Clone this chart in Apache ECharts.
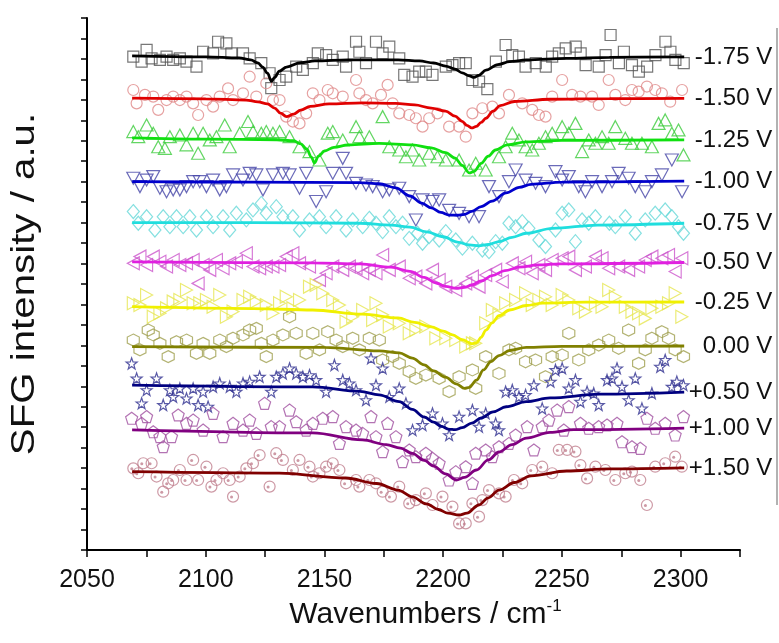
<!DOCTYPE html>
<html><head><meta charset="utf-8">
<script src="https://cdn.jsdelivr.net/npm/echarts@6/dist/echarts.min.js"></script>
<style>html,body{margin:0;padding:0;background:#fff}#c{width:779px;height:643px}</style>
</head><body><div id="c"></div>
<script>
// ---- labels ----
const POTENTIALS = ['-1.75 V','-1.50 V','-1.25 V','-1.00 V','-0.75 V','-0.50 V','-0.25 V','0.00 V','+0.50 V','+1.00 V','+1.50 V'];
const X_TITLE = 'Wavenumbers / cm';
const X_TITLE_SUP = '-1';
const Y_TITLE = 'SFG intensity / a.u.';

// ---- measured points [wavenumber, offset intensity] ----
const pts_m175 = [[2069.5,24.11],[2073.0,23.87],[2075.1,24.44],[2077.2,24.03],[2080.7,23.95],[2083.5,24.11],[2086.3,23.95],[2089.1,24.03],[2091.9,23.87],[2096.1,23.62],[2098.9,24.35],[2103.1,24.27],[2105.2,24.84],[2108.7,24.76],[2110.8,24.27],[2115.7,24.27],[2118.5,24.03],[2123.4,23.79],[2126.9,23.30],[2127.6,22.57],[2131.1,22.97],[2133.9,23.13],[2138.1,23.62],[2140.9,23.46],[2145.1,23.79],[2147.2,24.27],[2150.7,24.19],[2153.5,23.95],[2157.7,24.11],[2159.1,23.62],[2163.3,24.84],[2164.7,24.35],[2167.5,23.79],[2171.7,24.84],[2174.5,24.27],[2177.3,24.60],[2181.5,24.03],[2183.6,23.22],[2187.1,23.13],[2189.9,23.38],[2192.7,23.38],[2195.5,23.22],[2201.1,23.62],[2203.9,23.70],[2206.7,23.79],[2209.5,23.79],[2212.3,22.97],[2215.1,22.89],[2218.6,22.52],[2222.2,23.87],[2226.3,24.68],[2229.1,24.19],[2231.9,24.11],[2234.7,23.62],[2239.0,23.79],[2243.2,23.62],[2245.9,24.11],[2248.7,24.27],[2251.6,24.52],[2255.8,24.60],[2257.9,24.27],[2260.0,23.70],[2265.5,23.62],[2268.4,24.19],[2270.5,25.17],[2274.0,23.79],[2276.1,24.35],[2279.5,23.70],[2282.4,23.38],[2285.9,23.62],[2289.4,24.19],[2293.6,24.84],[2295.7,24.35],[2297.8,23.95],[2301.3,23.79]];
const pts_m150 = [[2069.5,22.48],[2070.9,21.83],[2074.4,22.24],[2077.9,22.16],[2080.0,21.51],[2083.5,21.99],[2086.3,22.16],[2089.1,21.99],[2091.9,22.16],[2094.7,21.83],[2096.8,21.26],[2100.3,21.99],[2103.1,21.67],[2105.9,22.16],[2109.4,22.56],[2111.5,21.99],[2115.7,22.32],[2118.5,23.13],[2121.3,22.16],[2125.5,22.81],[2128.3,21.99],[2131.1,21.99],[2133.9,21.18],[2136.7,20.94],[2139.5,20.85],[2142.3,21.34],[2145.1,22.32],[2147.9,21.99],[2151.4,22.48],[2153.5,22.32],[2157.7,22.16],[2163.3,22.97],[2164.7,22.32],[2167.5,21.99],[2170.3,21.83],[2173.8,22.24],[2176.6,22.73],[2178.7,21.83],[2181.5,21.34],[2185.7,21.26],[2188.5,21.10],[2191.3,20.69],[2194.1,21.10],[2197.6,21.34],[2202.5,20.69],[2206.7,20.69],[2209.5,20.20],[2212.3,21.34],[2216.5,21.59],[2220.7,21.67],[2223.5,21.34],[2227.7,22.24],[2233.3,21.83],[2237.5,21.51],[2240.3,21.26],[2243.1,21.18],[2245.9,22.16],[2250.1,22.97],[2254.3,22.24],[2257.8,22.16],[2262.7,22.16],[2265.5,21.75],[2269.7,22.97],[2272.5,22.24],[2276.7,21.99],[2279.5,22.48],[2282.3,22.40],[2285.8,22.65],[2289.3,22.48],[2292.1,22.32],[2295.6,21.91],[2300.6,22.48]];
const pts_m125 = [[2069.5,20.45],[2071.6,20.20],[2075.1,20.77],[2077.9,20.37],[2080.0,19.71],[2082.8,19.63],[2084.9,20.20],[2089.1,20.28],[2091.9,19.80],[2094.7,20.37],[2096.8,19.39],[2098.9,20.37],[2101.7,20.04],[2104.5,20.20],[2108.0,20.77],[2110.1,19.71],[2114.3,20.37],[2117.8,20.94],[2119.9,20.45],[2123.4,20.37],[2125.5,20.45],[2128.3,20.37],[2131.1,20.45],[2135.3,20.20],[2139.5,19.71],[2143.7,19.47],[2147.9,19.06],[2151.4,20.37],[2153.5,20.45],[2157.7,20.04],[2163.3,20.69],[2164.7,20.20],[2168.9,20.20],[2174.5,21.18],[2177.3,19.71],[2181.5,19.55],[2184.3,19.22],[2187.1,19.55],[2189.9,19.06],[2194.1,19.39],[2197.6,19.22],[2201.1,19.06],[2206.7,19.06],[2210.9,18.57],[2213.7,18.90],[2217.9,18.57],[2223.5,19.22],[2226.3,19.71],[2229.1,20.37],[2231.9,20.04],[2234.7,19.71],[2237.5,19.55],[2240.3,19.88],[2243.1,20.20],[2245.9,20.37],[2250.1,20.69],[2252.9,20.37],[2255.7,20.85],[2258.5,19.47],[2261.3,20.04],[2264.1,19.88],[2266.9,20.20],[2269.7,19.88],[2272.5,20.69],[2276.7,20.12],[2279.5,19.88],[2283.7,19.88],[2287.9,19.71],[2290.7,20.85],[2293.5,21.02],[2296.3,20.37],[2299.1,20.53],[2301.2,19.31]];
const pts_m100 = [[2069.5,18.17],[2072.3,17.76],[2075.1,18.08],[2077.9,18.25],[2080.7,17.68],[2083.5,17.51],[2086.3,17.60],[2089.1,17.60],[2091.9,17.76],[2094.7,18.00],[2097.5,18.00],[2100.3,17.76],[2103.1,18.08],[2105.9,17.60],[2108.7,17.76],[2111.5,18.33],[2115.7,18.08],[2118.5,18.41],[2121.3,18.33],[2124.1,17.60],[2128.3,18.33],[2132.5,18.41],[2135.3,18.33],[2139.5,17.68],[2142.3,18.41],[2146.5,17.03],[2150.7,17.51],[2153.5,18.41],[2157.7,19.14],[2159.1,18.41],[2163.3,17.92],[2167.5,17.84],[2170.3,17.76],[2174.5,17.51],[2177.3,17.60],[2181.5,17.68],[2185.7,17.27],[2188.5,16.13],[2191.3,17.11],[2195.5,17.03],[2198.3,17.11],[2202.5,16.60],[2206.7,16.45],[2210.9,16.29],[2215.1,16.29],[2219.3,17.76],[2223.5,17.27],[2227.7,18.00],[2230.5,18.57],[2234.7,18.08],[2238.9,17.92],[2243.1,17.76],[2247.3,18.49],[2250.1,18.08],[2252.9,18.25],[2257.1,17.76],[2259.9,17.51],[2262.7,18.00],[2266.9,17.76],[2271.1,18.00],[2273.9,18.41],[2278.1,18.17],[2280.9,17.76],[2285.1,17.51],[2287.9,18.00],[2292.1,18.33],[2296.3,19.06],[2300.6,17.51]];
const pts_m075 = [[2069.5,16.54],[2071.6,15.97],[2075.1,16.29],[2078.6,15.64],[2082.1,16.29],[2084.9,15.80],[2087.7,16.29],[2090.5,15.80],[2093.3,16.29],[2096.1,15.64],[2100.3,16.29],[2103.1,15.80],[2107.3,16.29],[2110.1,15.64],[2112.9,16.46],[2117.1,16.13],[2119.9,16.62],[2123.4,16.94],[2125.5,16.46],[2129.7,16.78],[2132.5,16.29],[2136.7,16.29],[2139.5,15.64],[2143.7,16.13],[2147.9,16.29],[2150.7,15.80],[2154.9,16.29],[2159.1,15.64],[2161.9,16.13],[2166.1,15.80],[2168.9,16.21],[2171.7,15.97],[2174.5,15.56],[2177.3,16.29],[2180.1,15.80],[2182.9,15.97],[2185.7,15.23],[2189.2,15.48],[2191.3,14.99],[2194.1,15.32],[2198.3,15.15],[2201.1,15.56],[2205.3,15.15],[2208.1,14.75],[2212.3,14.99],[2216.5,14.66],[2219.3,14.58],[2222.1,15.07],[2224.9,14.99],[2227.7,15.97],[2230.5,15.80],[2233.3,16.05],[2236.1,15.72],[2240.3,15.15],[2243.1,14.83],[2247.3,15.64],[2250.1,16.46],[2252.9,16.62],[2255.7,15.07],[2258.5,16.13],[2261.3,15.97],[2264.1,16.29],[2270.0,15.97],[2272.5,15.80],[2276.7,16.29],[2280.9,15.48],[2285.1,16.13],[2289.3,16.46],[2293.5,16.62],[2296.3,16.29],[2299.1,15.80],[2301.2,15.48]];
const pts_m050 = [[2069.5,14.01],[2072.3,14.34],[2075.1,13.93],[2077.9,14.34],[2080.7,14.09],[2083.5,13.85],[2086.3,14.17],[2089.1,13.93],[2091.9,14.01],[2094.7,14.17],[2096.8,13.03],[2098.9,13.93],[2101.7,13.69],[2104.5,14.17],[2107.3,13.77],[2110.1,14.01],[2112.9,14.09],[2117.1,14.50],[2119.9,13.85],[2122.7,13.77],[2125.5,13.85],[2128.3,13.85],[2131.1,13.93],[2133.9,14.34],[2136.7,14.50],[2139.5,14.01],[2143.7,13.85],[2147.9,13.20],[2150.7,13.52],[2153.5,13.85],[2157.7,13.69],[2160.5,13.85],[2163.3,13.77],[2166.1,13.52],[2168.9,13.69],[2171.7,13.52],[2174.5,14.42],[2177.3,13.69],[2181.5,13.85],[2185.7,13.28],[2188.5,13.36],[2192.7,13.03],[2195.5,13.69],[2198.3,13.20],[2201.1,12.87],[2205.3,12.71],[2209.5,13.03],[2212.3,13.36],[2215.1,12.87],[2217.9,13.44],[2222.1,13.69],[2224.9,13.12],[2229.1,14.01],[2231.9,13.77],[2234.7,14.09],[2237.5,13.52],[2240.3,13.93],[2243.1,13.69],[2245.9,14.17],[2250.1,14.26],[2252.9,14.34],[2255.7,13.69],[2259.9,13.85],[2264.1,14.34],[2266.9,14.26],[2269.7,13.77],[2273.9,13.85],[2278.1,13.69],[2282.3,13.85],[2285.1,14.17],[2287.9,14.34],[2292.1,14.26],[2294.9,14.42],[2297.7,13.61],[2300.5,14.26]];
const pts_m025 = [[2069.5,12.06],[2072.3,11.97],[2075.1,12.46],[2077.9,11.40],[2080.7,11.57],[2083.5,11.81],[2086.3,12.14],[2089.1,12.22],[2091.9,12.71],[2094.7,12.06],[2097.5,12.06],[2100.3,12.22],[2103.1,11.89],[2105.9,12.46],[2108.7,11.40],[2111.5,11.65],[2115.7,12.22],[2118.5,12.38],[2121.3,12.14],[2125.5,11.97],[2128.3,11.57],[2131.1,12.06],[2133.9,12.38],[2136.7,11.81],[2139.5,12.22],[2143.7,12.87],[2146.5,12.95],[2149.3,12.55],[2153.5,12.22],[2156.3,11.97],[2159.1,11.16],[2161.9,11.40],[2166.1,11.73],[2170.3,11.24],[2171.7,12.06],[2174.5,11.49],[2177.3,10.92],[2181.5,11.08],[2185.7,10.59],[2188.5,10.75],[2192.7,10.92],[2196.9,10.35],[2201.1,10.35],[2205.3,10.26],[2209.5,9.94],[2212.3,10.10],[2213.7,10.10],[2217.9,11.08],[2220.7,11.73],[2223.5,11.49],[2226.3,12.06],[2230.5,12.22],[2234.7,12.55],[2237.5,11.97],[2240.3,12.22],[2243.1,12.38],[2245.9,11.97],[2250.1,12.46],[2252.9,12.22],[2257.1,11.81],[2259.9,11.65],[2264.1,12.06],[2266.9,11.89],[2269.7,12.71],[2272.5,12.38],[2276.7,11.89],[2279.5,11.65],[2282.3,11.57],[2285.1,11.32],[2287.9,11.81],[2292.1,11.89],[2294.9,12.06],[2297.7,12.55],[2300.5,11.40]];
const pts_000 = [[2069.5,10.26],[2072.3,9.78],[2075.8,10.75],[2077.9,10.51],[2080.7,10.10],[2084.2,9.45],[2087.7,10.18],[2091.9,10.26],[2096.1,9.61],[2098.9,10.10],[2101.7,9.61],[2105.9,10.26],[2108.7,9.94],[2111.5,10.35],[2115.7,10.51],[2118.5,10.75],[2121.3,10.83],[2123.4,10.10],[2125.5,9.45],[2128.3,10.26],[2132.5,10.51],[2135.3,11.40],[2138.1,10.59],[2142.3,9.61],[2145.1,10.59],[2147.9,9.78],[2151.4,10.67],[2154.9,10.26],[2157.7,9.94],[2161.9,10.35],[2164.7,9.78],[2168.9,10.35],[2173.1,10.26],[2174.5,9.29],[2178.7,9.45],[2181.5,9.12],[2185.7,8.72],[2188.5,8.39],[2192.7,8.55],[2198.3,8.39],[2202.5,7.74],[2206.7,8.47],[2212.3,8.80],[2213.7,7.90],[2217.9,9.45],[2223.5,8.63],[2227.7,9.78],[2230.5,9.86],[2234.7,9.20],[2238.9,9.29],[2243.1,8.47],[2245.9,9.45],[2250.1,9.53],[2252.9,10.59],[2257.1,9.29],[2261.3,9.78],[2265.5,10.02],[2269.7,10.26],[2273.9,9.86],[2278.1,10.75],[2282.3,9.12],[2285.1,9.78],[2287.9,10.35],[2292.1,10.67],[2294.9,10.35],[2297.7,9.78],[2301.2,9.45]];
const pts_p050 = [[2068.8,9.12],[2070.9,8.39],[2073.0,7.17],[2075.1,7.82],[2079.3,8.39],[2082.1,7.09],[2084.9,7.82],[2086.3,7.49],[2089.1,7.90],[2091.9,7.41],[2094.7,7.90],[2096.8,7.09],[2098.9,7.74],[2101.0,7.01],[2103.1,7.98],[2105.9,8.15],[2110.1,7.98],[2112.9,7.74],[2115.7,8.15],[2118.5,8.23],[2122.7,8.47],[2127.6,7.74],[2129.7,8.47],[2132.5,8.63],[2135.3,8.88],[2138.1,8.63],[2140.9,8.47],[2143.7,8.55],[2146.5,8.31],[2150.7,7.74],[2154.2,9.04],[2157.7,8.31],[2160.5,8.15],[2163.3,7.82],[2167.5,7.33],[2169.6,9.37],[2171.7,8.06],[2174.5,8.88],[2177.3,7.49],[2181.5,7.90],[2184.3,7.17],[2187.1,5.86],[2191.3,6.11],[2195.5,6.68],[2199.7,6.19],[2202.5,5.62],[2206.7,6.52],[2212.3,6.84],[2215.1,6.03],[2217.9,6.68],[2222.1,6.19],[2223.5,5.86],[2226.3,7.74],[2229.1,7.82],[2231.9,7.49],[2234.7,7.58],[2238.2,8.06],[2241.7,6.92],[2245.2,8.23],[2247.3,8.80],[2250.1,8.88],[2252.9,7.90],[2255.7,8.31],[2257.8,7.25],[2260.6,7.74],[2263.4,7.66],[2265.5,7.09],[2269.0,8.31],[2271.1,8.39],[2273.2,8.88],[2275.3,7.98],[2278.1,7.33],[2280.9,8.39],[2283.7,6.92],[2287.9,7.66],[2291.4,8.96],[2293.5,9.29],[2296.3,7.98],[2298.4,8.23],[2301.2,8.06]];
const pts_p100 = [[2068.8,6.44],[2073.0,6.19],[2075.1,6.52],[2077.9,5.78],[2080.7,5.54],[2082.1,5.05],[2085.6,5.54],[2088.4,6.60],[2091.9,6.19],[2094.7,6.35],[2098.9,5.86],[2103.1,6.68],[2107.3,5.54],[2111.5,6.19],[2115.7,5.86],[2118.5,6.35],[2121.3,5.70],[2124.8,7.17],[2127.6,6.03],[2131.1,6.03],[2135.3,6.84],[2138.1,6.27],[2142.3,5.86],[2145.1,6.19],[2149.3,6.44],[2153.5,6.52],[2156.3,5.21],[2159.1,6.03],[2163.3,5.86],[2166.1,5.70],[2169.6,6.52],[2171.7,5.54],[2174.5,4.81],[2176.6,6.19],[2180.1,5.54],[2182.9,4.32],[2185.7,4.89],[2188.5,4.56],[2192.7,4.73],[2195.5,4.48],[2198.3,4.24],[2202.5,3.42],[2205.3,3.83],[2209.5,4.07],[2212.3,3.26],[2213.7,4.73],[2217.9,4.89],[2220.7,4.56],[2223.5,5.05],[2227.7,5.21],[2230.5,5.62],[2235.4,6.03],[2238.2,4.89],[2241.7,6.03],[2244.5,6.35],[2248.0,6.84],[2250.8,5.86],[2252.9,7.01],[2257.8,6.19],[2261.3,5.95],[2265.5,6.03],[2269.0,6.11],[2273.2,6.19],[2275.3,5.29],[2279.5,5.05],[2283.0,4.97],[2285.8,6.44],[2289.3,5.95],[2293.5,6.19],[2297.7,5.62],[2301.2,6.52]];
const pts_p150 = [[2069.5,3.99],[2071.6,3.75],[2073.7,4.24],[2077.2,4.24],[2079.3,3.59],[2082.1,2.85],[2084.2,3.26],[2086.3,3.42],[2089.1,3.91],[2091.9,3.42],[2094.7,4.40],[2096.8,3.42],[2100.3,4.07],[2102.4,3.10],[2104.5,3.42],[2107.3,3.75],[2110.1,3.42],[2111.5,2.61],[2114.3,3.59],[2117.1,3.99],[2119.9,4.24],[2122.7,4.64],[2126.9,3.10],[2129.7,4.73],[2132.5,4.40],[2136.7,3.91],[2139.5,4.40],[2143.7,4.07],[2145.1,3.59],[2147.9,3.75],[2150.7,4.07],[2153.5,4.24],[2156.3,3.91],[2159.1,3.26],[2163.3,3.42],[2164.7,3.10],[2168.9,3.42],[2171.7,3.26],[2174.5,2.85],[2178.0,2.61],[2181.5,3.10],[2185.7,2.28],[2188.5,2.44],[2192.7,2.77],[2195.5,2.20],[2199.7,2.61],[2203.9,2.12],[2206.7,1.30],[2209.5,1.30],[2212.3,2.28],[2215.1,1.63],[2216.5,2.44],[2219.3,2.93],[2223.5,2.77],[2226.3,2.61],[2229.8,3.42],[2233.3,3.26],[2237.5,3.91],[2241.7,4.07],[2245.9,3.75],[2248.7,4.89],[2252.2,4.89],[2255.7,4.81],[2257.8,4.15],[2260.6,3.50],[2264.1,4.07],[2268.3,3.91],[2272.5,3.42],[2276.7,3.75],[2279.5,3.83],[2283.0,3.42],[2285.8,2.20],[2289.3,4.07],[2293.5,4.24],[2297.7,4.56],[2300.5,4.07]];

// ---- fitted curves [wavenumber, offset intensity] ----
const fit_m175 = [[2069,24.15],[2100,24.10],[2114,24.05],[2119,23.95],[2122,23.8],[2124,23.6],[2126,23.3],[2127.7,22.9],[2129,23.1],[2131,23.4],[2134,23.6],[2140,23.82],[2146,23.9],[2160,23.95],[2181,23.95],[2190,23.9],[2196,23.8],[2201,23.65],[2205,23.5],[2208,23.32],[2211,23.17],[2213,23.1],[2215,23.2],[2218,23.45],[2223,23.72],[2228,23.87],[2235,23.95],[2252,24.03],[2270,24.08],[2301.5,24.1]];
const fit_m150 = [[2069,22.08],[2100,22.05],[2117,21.99],[2122,21.9],[2126,21.8],[2129,21.6],[2131.5,21.35],[2134,21.18],[2137,21.3],[2140,21.5],[2144,21.68],[2152,21.8],[2166,21.85],[2180,21.83],[2188,21.75],[2195,21.6],[2201,21.45],[2205,21.2],[2208,20.95],[2210,20.75],[2212,20.63],[2214,20.7],[2216,20.9],[2218,21.1],[2221,21.45],[2224,21.72],[2230,21.92],[2245,22.03],[2270,22.06],[2301.5,22.07]];
const fit_m125 = [[2069,20.14],[2100,20.08],[2130,20.05],[2137,20.0],[2140,19.85],[2142.5,19.6],[2144.5,19.2],[2145.8,18.91],[2147.5,19.25],[2150,19.5],[2154,19.68],[2160,19.8],[2173,19.87],[2187,19.8],[2195,19.65],[2201,19.42],[2205,19.15],[2208,18.8],[2211,18.43],[2213,18.5],[2216,18.9],[2219,19.25],[2222,19.55],[2227,19.8],[2235,19.95],[2250,20.02],[2301.5,20.04]];
const fit_m100 = [[2069,18.0],[2120,17.98],[2165,17.95],[2173,17.9],[2180,17.7],[2186,17.3],[2191,16.95],[2195,16.72],[2199,16.5],[2202.5,16.37],[2206,16.36],[2209,16.4],[2212,16.55],[2216,16.78],[2220.6,17.05],[2226.5,17.45],[2232,17.72],[2237,17.87],[2250,17.98],[2301.5,18.03]];
const fit_m075 = [[2069,16.0],[2120,16.0],[2165,15.97],[2178,15.88],[2186,15.78],[2193,15.55],[2200,15.31],[2206,15.05],[2211,14.91],[2215,14.87],[2219,14.93],[2223.5,15.07],[2229,15.28],[2235,15.48],[2246,15.72],[2265,15.88],[2301.5,15.97]];
const fit_m050 = [[2069,14.08],[2145,14.03],[2165,13.98],[2178,13.82],[2186,13.62],[2192,13.32],[2197,13.05],[2201,12.88],[2205.5,12.79],[2209,12.84],[2212,12.95],[2216,13.15],[2220.6,13.41],[2226,13.65],[2232,13.82],[2240,13.93],[2249,13.98],[2301.5,14.05]];
const fit_m025 = [[2069,11.89],[2120,11.8],[2145,11.73],[2166,11.53],[2181,11.34],[2188,11.12],[2195,10.9],[2200,10.7],[2204,10.51],[2208,10.28],[2212,10.08],[2214,10.12],[2216,10.4],[2218,10.75],[2220.6,11.1],[2223.5,11.45],[2228,11.73],[2235,11.95],[2242,12.07],[2260,12.11],[2301.5,12.12]];
const fit_000 = [[2069,9.94],[2150,9.9],[2173,9.73],[2181.5,9.63],[2187,9.38],[2192,9.05],[2196,8.75],[2201,8.45],[2205.5,8.12],[2209,7.9],[2211,7.95],[2214,8.3],[2217,8.8],[2220,9.2],[2223.5,9.5],[2228,9.75],[2235,9.9],[2250,9.95],[2301.5,9.97]];
const fit_p050 = [[2069,8.06],[2145,7.97],[2165,7.75],[2173,7.58],[2181.5,7.25],[2187,6.87],[2192,6.5],[2196,6.25],[2199,6.05],[2202.5,5.9],[2205,5.88],[2208,5.98],[2212,6.2],[2216,6.45],[2221,6.75],[2226.5,7.0],[2235,7.25],[2245,7.43],[2266,7.62],[2301.5,7.72]];
const fit_p100 = [[2069,5.87],[2145,5.72],[2166,5.38],[2176,5.15],[2182,4.98],[2187,4.72],[2192,4.38],[2196,4.1],[2201,3.72],[2205.5,3.42],[2209,3.55],[2214,3.91],[2219,4.4],[2223.5,4.79],[2229,5.15],[2235,5.47],[2245,5.75],[2255,5.88],[2301.5,5.96]];
const fit_p150 = [[2069,3.83],[2131,3.76],[2159,3.52],[2172,3.25],[2181,2.93],[2187,2.6],[2193,2.25],[2198,1.98],[2202,1.8],[2206.7,1.71],[2210,1.8],[2215,2.2],[2219,2.55],[2223.5,2.93],[2230,3.3],[2237,3.62],[2252,3.86],[2270,3.96],[2301.5,4.01]];

const POINTS = [pts_m175,pts_m150,pts_m125,pts_m100,pts_m075,pts_m050,pts_m025,pts_000,pts_p050,pts_p100,pts_p150];
const FITS = [fit_m175,fit_m150,fit_m125,fit_m100,fit_m075,fit_m050,fit_m025,fit_000,fit_p050,fit_p100,fit_p150];

// ---- styles ----
const LINE_COLORS = ['#000000','#e00000','#10e010','#0000cc','#20dede','#e020e0','#f0f000','#808000','#000080','#800080','#800000'];
const MARK_COLORS = ['#555555','#e08a8a','#3ccc3c','#4646a8','#66d8d8','#cc55cc','#e6e650','#a0a050','#303090','#a050a0','#c07f8f'];
const SYMBOLS = [
  'rect',
  'circle',
  'path://M50,0 L100,86 L0,86 Z',
  'path://M0,0 L100,0 L50,86 Z',
  'diamond',
  'path://M0,50 L86,0 L86,100 Z',
  'path://M86,50 L0,0 L0,100 Z',
  'path://M50,0 L93.3,25 L93.3,75 L50,100 L6.7,75 L6.7,25 Z',
  'path://M50,0 L61.76,33.82 L97.55,34.55 L69.02,56.18 L79.39,90.45 L50,70 L20.61,90.45 L30.98,56.18 L2.45,34.55 L38.24,33.82 Z',
  'path://M50,0 L97.6,34.5 L79.4,90.5 L20.6,90.5 L2.4,34.5 Z',
  'circle'
];
const SYMBOL_SIZES = [[11,11],[11,11],[13,12],[13,12],[12,14],[12,13],[12,13],[12,12],[11,11],[12,12],[11,11]];

const FONT = '"Liberation Sans", Arial, Helvetica, sans-serif';

const series = [];
POINTS.forEach((pts, i) => {
  series.push({
    type: 'scatter', data: pts, symbol: SYMBOLS[i], symbolSize: SYMBOL_SIZES[i],
    itemStyle: { color: 'rgba(255,255,255,0)', borderColor: MARK_COLORS[i], borderWidth: 1.2 },
    z: 2, silent: true
  });
});
// small inner dot of the +1.50 V markers
series.push({
  type: 'scatter', data: pts_p150, symbol: 'circle', symbolSize: 3, symbolOffset: [-1.5, 0.5],
  itemStyle: { color: MARK_COLORS[10] }, z: 2, silent: true
});
FITS.forEach((fit, i) => {
  series.push({
    type: 'line', name: POTENTIALS[i], data: fit, smooth: 0.35, smoothMonotone: 'x',
    showSymbol: false, lineStyle: { color: LINE_COLORS[i], width: 2.8 },
    z: 5, silent: true,
    endLabel: {
      show: true, distance: 10,
      formatter: p => '{a|' + p.seriesName + '}',
      rich: { a: { width: 78, align: 'right', fontSize: 24, fontFamily: FONT, color: '#111' } }
    }
  });
});

const chart = echarts.init(document.getElementById('c'), null, { renderer: 'canvas' });
chart.setOption({
  animation: false,
  backgroundColor: '#fff',
  grid: { left: 87, right: 39, top: 18, bottom: 93, containLabel: false },
  xAxis: {
    type: 'value', min: 2050, max: 2325, interval: 25,
    axisLine: { onZero: false, lineStyle: { color: '#000', width: 2 } },
    axisTick: { length: 7, lineStyle: { color: '#000', width: 1.5 } },
    axisLabel: { margin: 18, fontSize: 25, fontFamily: FONT, color: '#111',
      formatter: v => (v % 50 === 0 ? String(v) : '') },
    splitLine: { show: false },
    name: '{a|' + X_TITLE + '}{b|' + X_TITLE_SUP + '}',
    nameLocation: 'middle', nameGap: 46,
    nameTextStyle: { padding: [0, 0, 0, 24],
      rich: { a: { fontSize: 30, fontFamily: FONT, color: '#111', lineHeight: 34 },
              b: { fontSize: 17, fontFamily: FONT, color: '#111', verticalAlign: 'top', lineHeight: 18 } } }
  },
  yAxis: {
    type: 'value', min: 0, max: 26, interval: 1,
    axisLine: { show: true, lineStyle: { color: '#000', width: 2 } },
    axisTick: { show: true, length: 6, lineStyle: { color: '#000', width: 1.5 } },
    axisLabel: { show: false },
    splitLine: { show: false }
  },
  graphic: [
    { type: 'text', x: 25, y: 284, rotation: Math.PI / 2, scaleX: 1.22,
      style: { text: Y_TITLE, font: '33px ' + FONT, fill: '#111', textAlign: 'center', textVerticalAlign: 'middle' } },
    { type: 'line', shape: { x1: 777, y1: 28, x2: 777, y2: 505 }, style: { stroke: '#999', lineWidth: 1.5 } }
  ],
  series: series
});
</script></body></html>
